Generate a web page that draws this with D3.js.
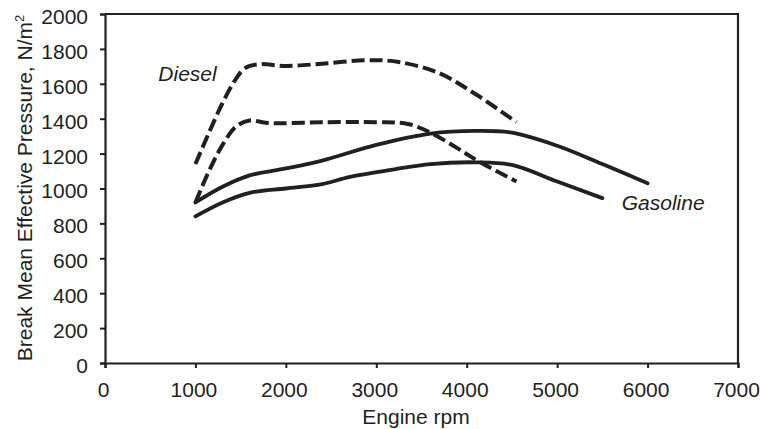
<!DOCTYPE html>
<html>
<head>
<meta charset="utf-8">
<style>
  body { margin: 0; background: #fff; }
  text { font-family: "Liberation Sans", Arial, sans-serif; fill: #231f20; }
</style>
</head>
<body>
<script src="https://cdn.jsdelivr.net/npm/d3@7"></script>
<script>
// data (rpm, N/m2)
var dieselHigh = [[1000,1140],[1150,1320],[1300,1490],[1450,1630],[1550,1690],[1700,1712],[2000,1702],[2400,1715],[2900,1735],[3250,1725],[3700,1660],[4100,1540],[4550,1380]];
var dieselLow = [[1000,920],[1150,1100],[1300,1250],[1450,1355],[1600,1390],[1800,1375],[2400,1380],[3000,1380],[3350,1370],[3600,1320],[3900,1230],[4150,1150],[4550,1040]];
var gasolineHigh = [[1000,920],[1300,1010],[1600,1075],[2000,1115],[2400,1160],[3000,1250],[3600,1315],[4100,1330],[4500,1320],[5000,1245],[5500,1140],[6000,1030]];
var gasolineLow = [[1000,840],[1300,920],[1600,975],[2000,1000],[2400,1025],[2700,1065],[3200,1110],[3600,1140],[4100,1150],[4500,1135],[5000,1040],[5500,945]];
var xTicks = [0,1000,2000,3000,4000,5000,6000,7000];
var yTicks = [0,200,400,600,800,1000,1200,1400,1600,1800,2000];
var labels = [{text:"Diesel", x:590, y:1618}, {text:"Gasoline", x:5714, y:877}];

var ink = "#231f20";
var fontSize = 21;
var margin = {top: 14, right: 23, bottom: 66, left: 105};
var width = 761 - margin.left - margin.right,
    height = 429 - margin.top - margin.bottom;

var svg = d3.select("body").append("svg")
    .attr("width", 761)
    .attr("height", 429);
var g = svg.append("g")
    .attr("transform", "translate(" + margin.left + "," + margin.top + ")");

var x = d3.scaleLinear().domain([0, 7000]).range([0, width]);
var y = d3.scaleLinear().domain([0, 2000]).range([height, 0]);

// frame top and right
g.append("path")
    .attr("d", "M0,0H" + width + "V" + height)
    .attr("fill", "none").attr("stroke", ink).attr("stroke-width", 2.2);

var xAxis = g.append("g")
    .attr("transform", "translate(0," + height + ")")
    .call(d3.axisBottom(x).tickValues(xTicks).tickFormat(d3.format("d")).tickSizeOuter(0).tickSize(5).tickPadding(14));
var yAxis = g.append("g")
    .call(d3.axisLeft(y).tickValues(yTicks).tickFormat(d3.format("d")).tickSizeOuter(0).tickSize(5).tickPadding(12));

[xAxis, yAxis].forEach(function(a) {
  a.select(".domain").attr("stroke", ink).attr("stroke-width", 2.2);
  a.selectAll(".tick line").attr("stroke", ink).attr("stroke-width", 2);
  a.selectAll(".tick text").attr("font-size", fontSize).attr("font-family", "Liberation Sans, Arial, sans-serif").attr("fill", ink);
});
xAxis.selectAll(".tick text").attr("dx", -2);
yAxis.selectAll(".tick text").attr("dy", "0.45em");

var line = d3.line()
    .x(function(d) { return x(d[0]); })
    .y(function(d) { return y(d[1]); })
    .curve(d3.curveCatmullRom.alpha(0.5));

[dieselHigh, dieselLow].forEach(function(s) {
  g.append("path").datum(s)
    .attr("d", line)
    .attr("fill", "none").attr("stroke", ink)
    .attr("stroke-width", 4).attr("stroke-dasharray", "13,5");
});
[gasolineHigh, gasolineLow].forEach(function(s) {
  g.append("path").datum(s)
    .attr("d", line)
    .attr("fill", "none").attr("stroke", ink)
    .attr("stroke-width", 3.8).attr("stroke-linecap", "round");
});

g.selectAll(".series-label").data(labels).enter().append("text")
    .attr("class", "series-label")
    .attr("x", function(d) { return x(d.x); })
    .attr("y", function(d) { return y(d.y); })
    .attr("font-size", fontSize).attr("font-style", "italic")
    .text(function(d) { return d.text; });

// axis titles
svg.append("text")
    .attr("x", 416).attr("y", 424)
    .attr("text-anchor", "middle").attr("font-size", fontSize)
    .text("Engine rpm");

var yt = svg.append("text")
    .attr("transform", "translate(32,188) rotate(-90)")
    .attr("text-anchor", "middle").attr("font-size", fontSize);
yt.append("tspan").text("Break Mean Effective Pressure, N/m");
yt.append("tspan").attr("dy", -8).attr("font-size", 13).text("2");
</script>
</body>
</html>
